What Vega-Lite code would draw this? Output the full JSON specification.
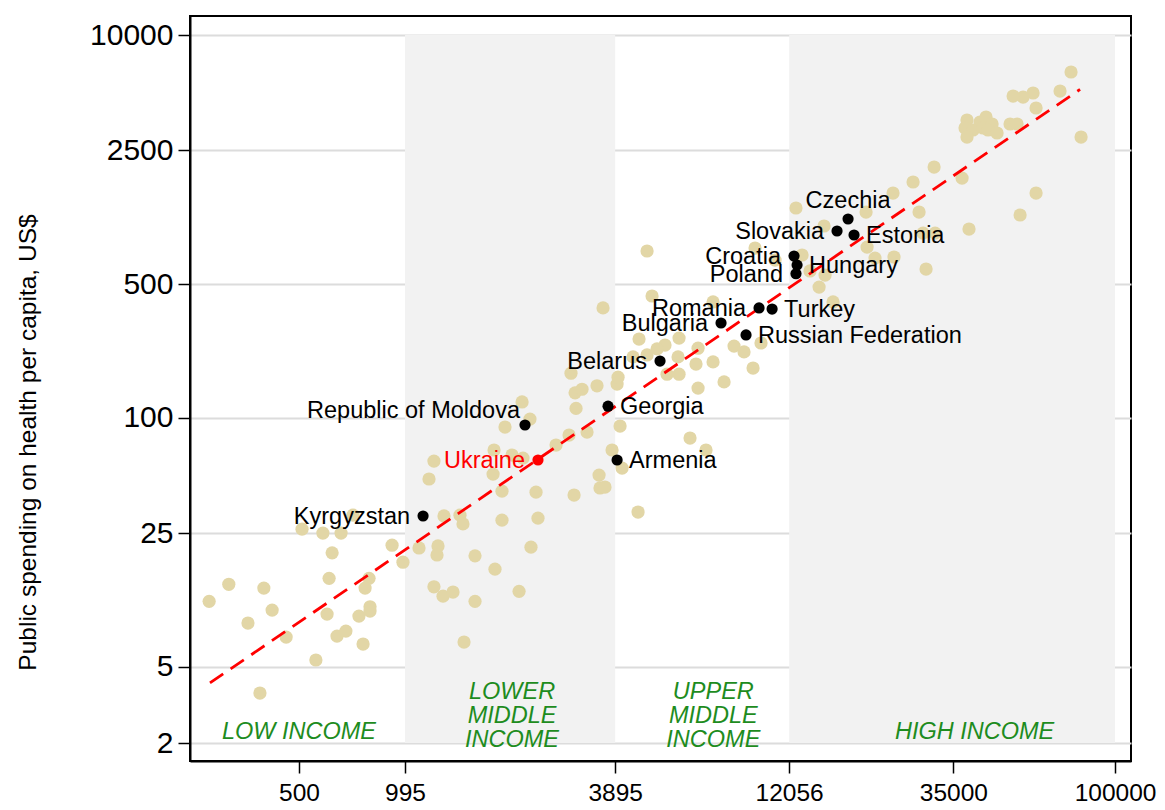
{
  "$schema": "https://vega.github.io/schema/vega-lite/v6.json",
  "width": 941,
  "height": 745,
  "autosize": {"type": "none"},
  "padding": {"left": 190, "top": 16, "right": 34, "bottom": 49},
  "background": "white",
  "config": {
    "view": {"stroke": "black", "strokeWidth": 2},
    "font": "Liberation Sans",
    "axisX": {"format": "d", "grid": false, "domainColor": "black", "domainWidth": 2, "tickColor": "black", "tickWidth": 1.5, "tickSize": 12,
      "labelFont": "Liberation Sans", "labelFontSize": 24.5, "labelColor": "black", "labelPadding": 8, "labelFlush": false, "labelOverlap": false},
    "axisY": {"format": "d", "grid": true, "gridColor": "#dcdcdc", "gridWidth": 2, "domainColor": "black", "domainWidth": 2,
      "tickColor": "black", "tickWidth": 1.5, "tickSize": 12,
      "labelFont": "Liberation Sans", "labelFontSize": 30, "labelColor": "black", "labelPadding": 5, "labelFlush": false, "labelOverlap": false,
      "titleFont": "Liberation Sans", "titleFontSize": 24.5, "titleFontWeight": "normal", "titleColor": "black",
      "titleAngle": -90, "titleX": -162, "titleY": 426, "titleAlign": "center", "titleBaseline": "middle"}
  },
  "datasets": {
    "others": [
      {"gdp": 710, "health": 31.0}, {"gdp": 1282, "health": 30.7}, {"gdp": 510, "health": 26.2}, {"gdp": 584, "health": 25.0},
      {"gdp": 657, "health": 25.0}, {"gdp": 620, "health": 19.7}, {"gdp": 915, "health": 21.6}, {"gdp": 1090, "health": 20.9},
      {"gdp": 1233, "health": 21.4}, {"gdp": 1225, "health": 19.2}, {"gdp": 982, "health": 17.6}, {"gdp": 317, "health": 13.5},
      {"gdp": 398, "health": 12.9}, {"gdp": 608, "health": 14.5}, {"gdp": 788, "health": 14.5}, {"gdp": 768, "health": 12.9},
      {"gdp": 279, "health": 11.0}, {"gdp": 420, "health": 9.9}, {"gdp": 359, "health": 8.47}, {"gdp": 600, "health": 9.43},
      {"gdp": 738, "health": 9.21}, {"gdp": 793, "health": 10.3}, {"gdp": 793, "health": 9.78}, {"gdp": 460, "health": 7.15},
      {"gdp": 640, "health": 7.24}, {"gdp": 678, "health": 7.69}, {"gdp": 758, "health": 6.58}, {"gdp": 558, "health": 5.43},
      {"gdp": 388, "health": 3.65}, {"gdp": 1201, "health": 13.1}, {"gdp": 1274, "health": 11.7},
      {"gdp": 2128, "health": 121}, {"gdp": 2240, "health": 98.5}, {"gdp": 1905, "health": 89.5}, {"gdp": 3002, "health": 135},
      {"gdp": 3141, "health": 141}, {"gdp": 3462, "health": 147}, {"gdp": 3944, "health": 150}, {"gdp": 3021, "health": 112},
      {"gdp": 2887, "health": 81.3}, {"gdp": 3245, "health": 84.3}, {"gdp": 2653, "health": 72.1}, {"gdp": 4021, "health": 90.6},
      {"gdp": 3817, "health": 67.9}, {"gdp": 4074, "health": 54.6}, {"gdp": 1774, "health": 67.9}, {"gdp": 1994, "health": 63.9},
      {"gdp": 2141, "health": 61.6}, {"gdp": 1201, "health": 59.4}, {"gdp": 1763, "health": 50.8}, {"gdp": 1163, "health": 47.9},
      {"gdp": 1868, "health": 41.4}, {"gdp": 2330, "health": 40.9}, {"gdp": 2983, "health": 39.5}, {"gdp": 3508, "health": 50.2},
      {"gdp": 3530, "health": 43.0}, {"gdp": 3646, "health": 43.5}, {"gdp": 1422, "health": 31.0}, {"gdp": 1450, "health": 27.9},
      {"gdp": 1868, "health": 29.2}, {"gdp": 2360, "health": 29.9}, {"gdp": 4519, "health": 32.2}, {"gdp": 1568, "health": 19.0},
      {"gdp": 2255, "health": 21.1}, {"gdp": 1785, "health": 16.2}, {"gdp": 1359, "health": 12.3}, {"gdp": 1568, "health": 11.0},
      {"gdp": 2087, "health": 12.4}, {"gdp": 1460, "health": 6.74},
      {"gdp": 4791, "health": 744}, {"gdp": 9659, "health": 771}, {"gdp": 11000, "health": 667}, {"gdp": 4949, "health": 433},
      {"gdp": 3600, "health": 375}, {"gdp": 7354, "health": 403}, {"gdp": 4548, "health": 258}, {"gdp": 5897, "health": 261},
      {"gdp": 5384, "health": 240}, {"gdp": 5112, "health": 229}, {"gdp": 4791, "health": 213}, {"gdp": 6672, "health": 231},
      {"gdp": 8428, "health": 237}, {"gdp": 8993, "health": 221}, {"gdp": 10040, "health": 246}, {"gdp": 5859, "health": 208},
      {"gdp": 4375, "health": 208}, {"gdp": 7354, "health": 196}, {"gdp": 6584, "health": 191}, {"gdp": 9535, "health": 182},
      {"gdp": 2924, "health": 171}, {"gdp": 3969, "health": 163}, {"gdp": 5455, "health": 169}, {"gdp": 5897, "health": 169},
      {"gdp": 7899, "health": 154}, {"gdp": 6672, "health": 143}, {"gdp": 6333, "health": 78.4}, {"gdp": 7025, "health": 67.9},
      {"gdp": 19860, "health": 1189}, {"gdp": 12600, "health": 1248}, {"gdp": 15120, "health": 1005}, {"gdp": 13110, "health": 709},
      {"gdp": 14640, "health": 482}, {"gdp": 16030, "health": 403}, {"gdp": 19990, "health": 780}, {"gdp": 21050, "health": 683},
      {"gdp": 13800, "health": 585}, {"gdp": 15220, "health": 557}, {"gdp": 30890, "health": 2043}, {"gdp": 26950, "health": 1706},
      {"gdp": 23660, "health": 1494}, {"gdp": 28020, "health": 1189}, {"gdp": 23810, "health": 692}, {"gdp": 29320, "health": 599},
      {"gdp": 75160, "health": 6407}, {"gdp": 69980, "health": 5097}, {"gdp": 58740, "health": 4977}, {"gdp": 55050, "health": 4742},
      {"gdp": 51590, "health": 4800}, {"gdp": 59890, "health": 4155}, {"gdp": 38250, "health": 3596}, {"gdp": 41630, "health": 3510},
      {"gdp": 43280, "health": 3728}, {"gdp": 45010, "health": 3428}, {"gdp": 37760, "health": 3267}, {"gdp": 39780, "health": 3189},
      {"gdp": 42450, "health": 3267}, {"gdp": 43850, "health": 3189}, {"gdp": 46490, "health": 3076}, {"gdp": 38250, "health": 2931},
      {"gdp": 50580, "health": 3428}, {"gdp": 52950, "health": 3428}, {"gdp": 80210, "health": 2931}, {"gdp": 37040, "health": 1789},
      {"gdp": 59890, "health": 1494}, {"gdp": 53990, "health": 1147}, {"gdp": 38750, "health": 969}, {"gdp": 28750, "health": 923},
      {"gdp": 31090, "health": 923}
    ],
    "countries": [
      {"country": "Czechia", "gdp": 17670, "health": 1093},
      {"country": "Slovakia", "gdp": 16450, "health": 946},
      {"country": "Estonia", "gdp": 18370, "health": 902},
      {"country": "Croatia", "gdp": 12440, "health": 700},
      {"country": "Hungary", "gdp": 12690, "health": 628},
      {"country": "Poland", "gdp": 12600, "health": 566},
      {"country": "Romania", "gdp": 9913, "health": 375},
      {"country": "Turkey", "gdp": 10790, "health": 370},
      {"country": "Bulgaria", "gdp": 7745, "health": 313},
      {"country": "Russian Federation", "gdp": 9111, "health": 271},
      {"country": "Belarus", "gdp": 5212, "health": 198},
      {"country": "Georgia", "gdp": 3719, "health": 115},
      {"country": "Republic of Moldova", "gdp": 2169, "health": 91.7},
      {"country": "Ukraine", "gdp": 2360, "health": 60.2},
      {"country": "Armenia", "gdp": 3944, "health": 60.2},
      {"country": "Kyrgyzstan", "gdp": 1119, "health": 30.7}
    ],
    "fit": [
      {"gdp": 280.5, "health": 4.12},
      {"gdp": 79700, "health": 5200}
    ],
    "bands": [
      {"band": "LOW INCOME", "lo": 246.4, "hi": 995, "mid": 500},
      {"band": "LOWER MIDDLE INCOME", "lo": 995, "hi": 3895, "mid": 1994},
      {"band": "UPPER MIDDLE INCOME", "lo": 3895, "hi": 12056, "mid": 7367},
      {"band": "HIGH INCOME", "lo": 12056, "hi": 100000, "mid": 40170}
    ]
  },
  "layer": [
    {
      "data": {"name": "bands"},
      "transform": [{"filter": {"field": "band", "oneOf": ["LOWER MIDDLE INCOME", "HIGH INCOME"]}}],
      "mark": {"type": "rect", "color": "#f2f2f2"},
      "encoding": {
        "x": {"field": "lo", "type": "quantitative", "scale": {"type": "log", "domain": [246.4, 110930], "nice": false},
          "axis": {"values": [500, 995, 3895, 12056, 35000, 100000], "title": null}},
        "x2": {"field": "hi"},
        "y": {"datum": 2, "type": "quantitative", "scale": {"type": "log", "domain": [1.611, 12568], "nice": false, "zero": false},
          "axis": {"values": [2, 5, 25, 100, 500, 2500, 10000], "title": "Public spending on health per capita, US$"}},
        "y2": {"datum": 10000}
      }
    },
    {
      "data": {"name": "others"},
      "mark": {"type": "circle", "color": "#e2d6a6", "opacity": 1, "size": 175},
      "encoding": {
        "x": {"field": "gdp", "type": "quantitative", "scale": {"type": "log", "domain": [246.4, 110930], "nice": false},
          "axis": {"values": [500, 995, 3895, 12056, 35000, 100000], "title": null}},
        "y": {"field": "health", "type": "quantitative", "scale": {"type": "log", "domain": [1.611, 12568], "nice": false, "zero": false},
          "axis": {"values": [2, 5, 25, 100, 500, 2500, 10000], "title": "Public spending on health per capita, US$"}}
      }
    },
    {
      "data": {"name": "fit"},
      "mark": {"type": "line", "color": "red", "strokeWidth": 2.8, "strokeDash": [16, 9]},
      "encoding": {
        "x": {"field": "gdp", "type": "quantitative", "scale": {"type": "log", "domain": [246.4, 110930], "nice": false},
          "axis": {"values": [500, 995, 3895, 12056, 35000, 100000], "title": null}},
        "y": {"field": "health", "type": "quantitative", "scale": {"type": "log", "domain": [1.611, 12568], "nice": false, "zero": false},
          "axis": {"values": [2, 5, 25, 100, 500, 2500, 10000], "title": "Public spending on health per capita, US$"}}
      }
    },
    {
      "data": {"name": "countries"},
      "mark": {"type": "circle", "opacity": 1, "size": 125},
      "encoding": {
        "x": {"field": "gdp", "type": "quantitative", "scale": {"type": "log", "domain": [246.4, 110930], "nice": false},
          "axis": {"values": [500, 995, 3895, 12056, 35000, 100000], "title": null}},
        "y": {"field": "health", "type": "quantitative", "scale": {"type": "log", "domain": [1.611, 12568], "nice": false, "zero": false},
          "axis": {"values": [2, 5, 25, 100, 500, 2500, 10000], "title": "Public spending on health per capita, US$"}},
        "color": {"condition": {"test": "datum.country === 'Ukraine'", "value": "red"}, "value": "black"}
      }
    },
    {
      "data": {"name": "countries"},
      "transform": [{"filter": {"field": "country", "oneOf": ["Slovakia", "Croatia", "Poland", "Romania", "Bulgaria", "Belarus", "Ukraine", "Kyrgyzstan"]}}],
      "mark": {"type": "text", "align": "right", "baseline": "middle", "dx": -13, "dy": 1, "font": "Liberation Sans", "fontSize": 23.5},
      "encoding": {
        "x": {"field": "gdp", "type": "quantitative", "scale": {"type": "log", "domain": [246.4, 110930], "nice": false},
          "axis": {"values": [500, 995, 3895, 12056, 35000, 100000], "title": null}},
        "y": {"field": "health", "type": "quantitative", "scale": {"type": "log", "domain": [1.611, 12568], "nice": false, "zero": false},
          "axis": {"values": [2, 5, 25, 100, 500, 2500, 10000], "title": "Public spending on health per capita, US$"}},
        "text": {"field": "country"},
        "color": {"condition": {"test": "datum.country === 'Ukraine'", "value": "red"}, "value": "black"}
      }
    },
    {
      "data": {"name": "countries"},
      "transform": [{"filter": {"field": "country", "oneOf": ["Estonia", "Hungary", "Turkey", "Russian Federation", "Georgia", "Armenia"]}}],
      "mark": {"type": "text", "align": "left", "baseline": "middle", "dx": 12, "dy": 1, "font": "Liberation Sans", "fontSize": 23.5, "color": "black"},
      "encoding": {
        "x": {"field": "gdp", "type": "quantitative", "scale": {"type": "log", "domain": [246.4, 110930], "nice": false},
          "axis": {"values": [500, 995, 3895, 12056, 35000, 100000], "title": null}},
        "y": {"field": "health", "type": "quantitative", "scale": {"type": "log", "domain": [1.611, 12568], "nice": false, "zero": false},
          "axis": {"values": [2, 5, 25, 100, 500, 2500, 10000], "title": "Public spending on health per capita, US$"}},
        "text": {"field": "country"}
      }
    },
    {
      "data": {"name": "countries"},
      "transform": [{"filter": {"field": "country", "equal": "Czechia"}}],
      "mark": {"type": "text", "align": "center", "baseline": "middle", "dy": -18, "font": "Liberation Sans", "fontSize": 23.5, "color": "black"},
      "encoding": {
        "x": {"field": "gdp", "type": "quantitative", "scale": {"type": "log", "domain": [246.4, 110930], "nice": false},
          "axis": {"values": [500, 995, 3895, 12056, 35000, 100000], "title": null}},
        "y": {"field": "health", "type": "quantitative", "scale": {"type": "log", "domain": [1.611, 12568], "nice": false, "zero": false},
          "axis": {"values": [2, 5, 25, 100, 500, 2500, 10000], "title": "Public spending on health per capita, US$"}},
        "text": {"field": "country"}
      }
    },
    {
      "data": {"name": "countries"},
      "transform": [{"filter": {"field": "country", "equal": "Republic of Moldova"}}],
      "mark": {"type": "text", "align": "right", "baseline": "middle", "dx": -5, "dy": -14, "font": "Liberation Sans", "fontSize": 23.5, "color": "black"},
      "encoding": {
        "x": {"field": "gdp", "type": "quantitative", "scale": {"type": "log", "domain": [246.4, 110930], "nice": false},
          "axis": {"values": [500, 995, 3895, 12056, 35000, 100000], "title": null}},
        "y": {"field": "health", "type": "quantitative", "scale": {"type": "log", "domain": [1.611, 12568], "nice": false, "zero": false},
          "axis": {"values": [2, 5, 25, 100, 500, 2500, 10000], "title": "Public spending on health per capita, US$"}},
        "text": {"field": "country"}
      }
    },
    {
      "data": {"name": "bands"},
      "transform": [{"filter": {"field": "band", "oneOf": ["LOW INCOME", "HIGH INCOME"]}}],
      "mark": {"type": "text", "align": "center", "baseline": "middle", "font": "Liberation Sans", "fontStyle": "italic", "fontSize": 23.5, "color": "#1e8c1e"},
      "encoding": {
        "x": {"field": "mid", "type": "quantitative", "scale": {"type": "log", "domain": [246.4, 110930], "nice": false},
          "axis": {"values": [500, 995, 3895, 12056, 35000, 100000], "title": null}},
        "y": {"datum": 2.28, "type": "quantitative", "scale": {"type": "log", "domain": [1.611, 12568], "nice": false, "zero": false},
          "axis": {"values": [2, 5, 25, 100, 500, 2500, 10000], "title": "Public spending on health per capita, US$"}},
        "text": {"field": "band"}
      }
    },
    {
      "data": {"name": "bands"},
      "transform": [{"filter": {"field": "band", "oneOf": ["LOWER MIDDLE INCOME", "UPPER MIDDLE INCOME"]}}],
      "mark": {"type": "text", "align": "center", "baseline": "middle", "lineBreak": " ", "lineHeight": 24, "font": "Liberation Sans", "fontStyle": "italic", "fontSize": 23.5, "color": "#1e8c1e"},
      "encoding": {
        "x": {"field": "mid", "type": "quantitative", "scale": {"type": "log", "domain": [246.4, 110930], "nice": false},
          "axis": {"values": [500, 995, 3895, 12056, 35000, 100000], "title": null}},
        "y": {"datum": 3.69, "type": "quantitative", "scale": {"type": "log", "domain": [1.611, 12568], "nice": false, "zero": false},
          "axis": {"values": [2, 5, 25, 100, 500, 2500, 10000], "title": "Public spending on health per capita, US$"}},
        "text": {"field": "band"}
      }
    }
  ]
}
